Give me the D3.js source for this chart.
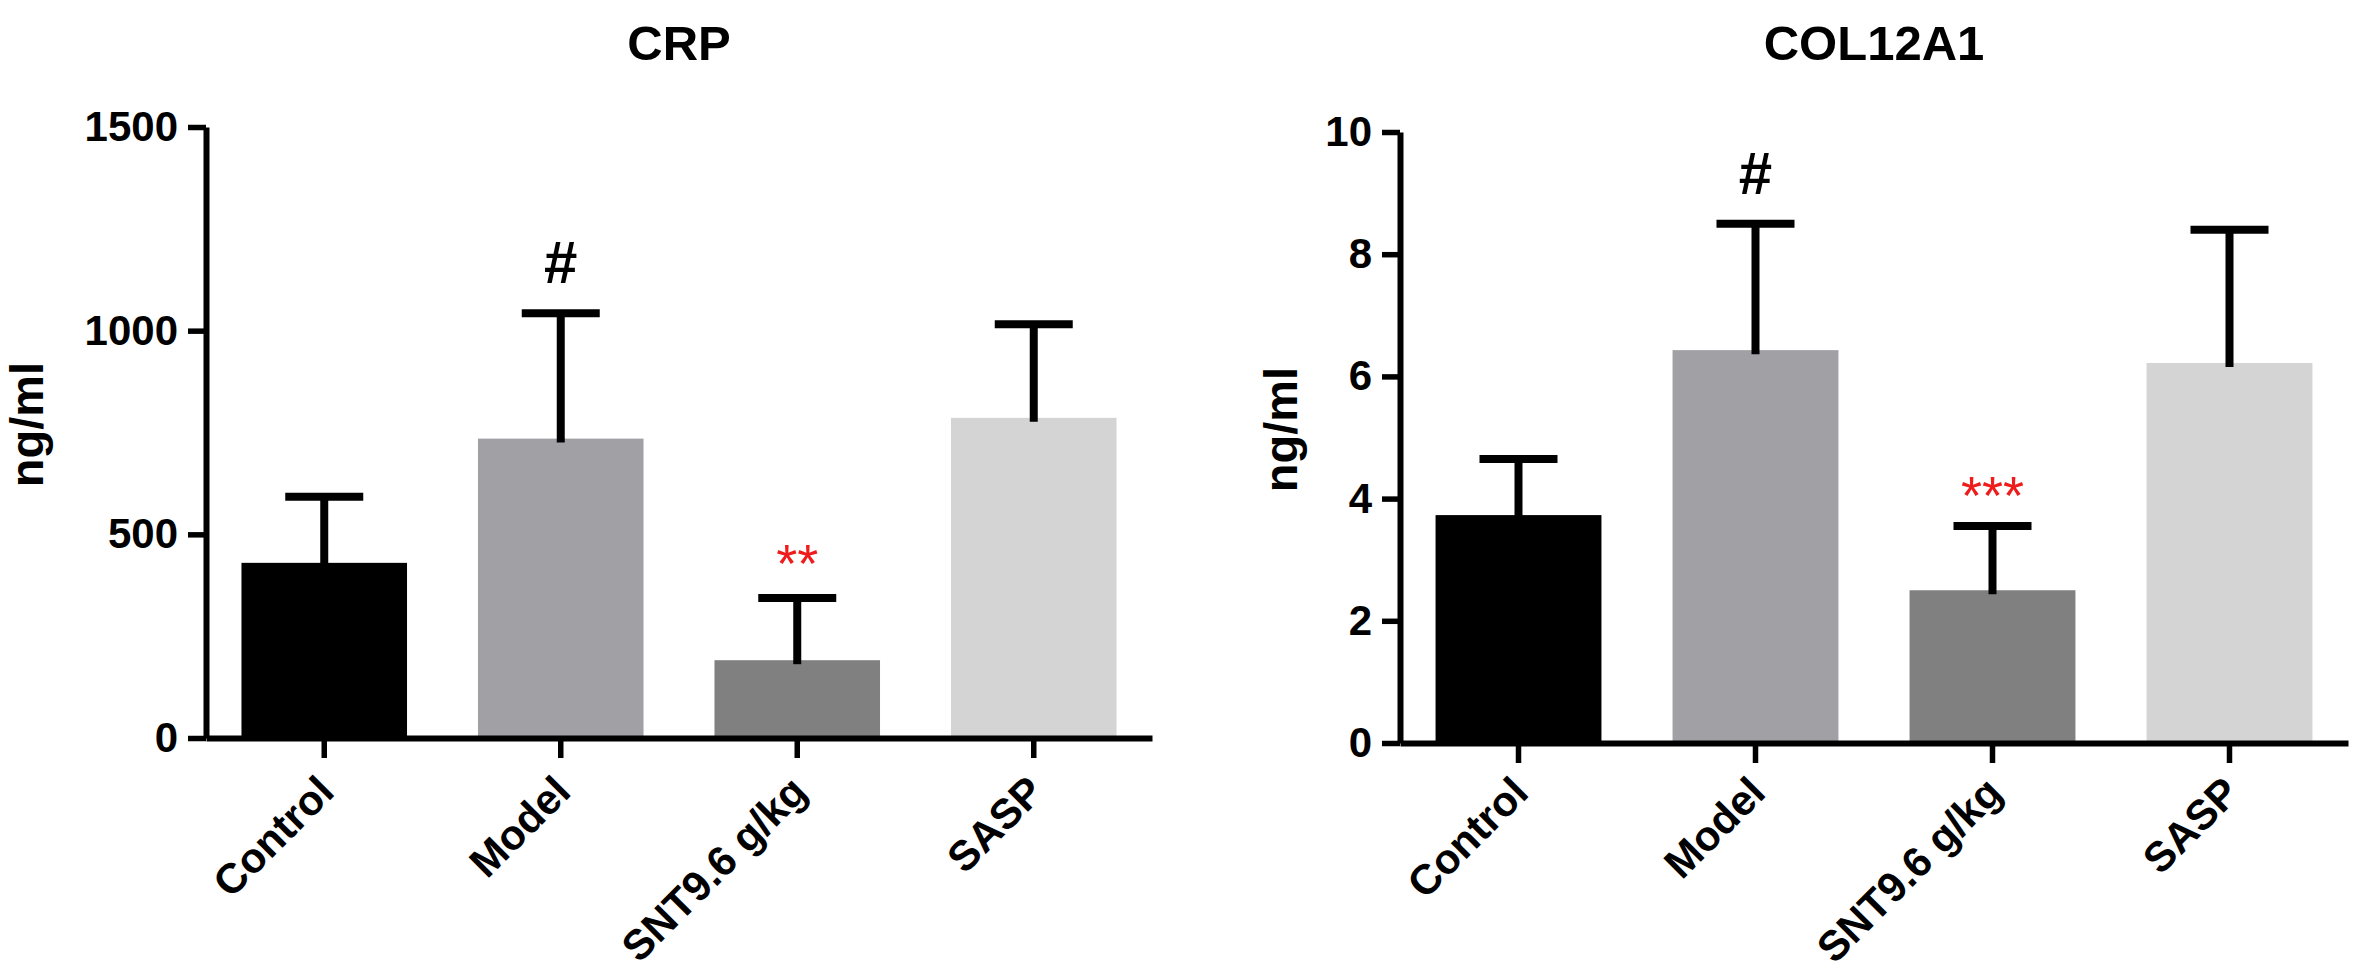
<!DOCTYPE html>
<html>
<head>
<meta charset="utf-8">
<script src="https://cdn.jsdelivr.net/npm/d3@7"></script>
<style>
  html, body { margin: 0; padding: 0; background: #fff; }
  svg { display: block; }
  text { font-family: "Liberation Sans", Arial, Helvetica, sans-serif; font-weight: bold; }
</style>
</head>
<body>
<div id="chart"></div>
<script>
// groups on the x axis
var categories = ["Control", "Model", "SNT9.6 g/kg", "SASP"];
var barColors = ["#000000", "#a1a1a5", "#808080", "#d4d4d4"];

// CRP panel (ng/ml), mean and upper error (SD)
var crpMean = [430, 735, 191, 786];
var crpErr = [162, 308, 153, 230];
var crpTicks = [0, 500, 1000, 1500];
var crpMarks = ["", "#", "**", ""];

// COL12A1 panel (ng/ml)
var colMean = [3.73, 6.43, 2.50, 6.22];
var colErr = [0.92, 2.07, 1.05, 2.18];
var colTicks = [0, 2, 4, 6, 8, 10];
var colMarks = ["", "#", "***", ""];

var W = 2362, H = 978;

var svg = d3.select("#chart").append("svg")
  .attr("width", W)
  .attr("height", H);

function panel(opt) {
  var x = d3.scaleBand()
    .domain(categories)
    .range([opt.x0, opt.x1])
    .paddingInner(0.3)
    .paddingOuter(0.15);

  var y = d3.scaleLinear()
    .domain([0, opt.max])
    .range([opt.y0, opt.y1]);

  var g = svg.append("g");

  // bars
  g.selectAll("rect.bar")
    .data(opt.mean)
    .enter().append("rect")
    .attr("class", "bar")
    .attr("x", function(d, i) { return x(categories[i]); })
    .attr("y", function(d) { return y(d); })
    .attr("width", x.bandwidth())
    .attr("height", function(d) { return y(0) - y(d); })
    .style("fill", function(d, i) { return barColors[i]; });

  // error bars, upper half only
  var err = g.selectAll("g.err")
    .data(opt.mean)
    .enter().append("g")
    .attr("class", "err")
    .attr("transform", function(d, i) {
      return "translate(" + (x(categories[i]) + x.bandwidth() / 2) + ",0)";
    });

  err.append("line")
    .attr("y1", function(d) { return y(d) + 4; })
    .attr("y2", function(d, i) { return y(d + opt.err[i]); })
    .style("stroke", "#000")
    .style("stroke-width", 8);

  err.append("line")
    .attr("x1", -39)
    .attr("x2", 39)
    .attr("y1", function(d, i) { return y(d + opt.err[i]); })
    .attr("y2", function(d, i) { return y(d + opt.err[i]); })
    .style("stroke", "#000")
    .style("stroke-width", 8);

  // significance marks
  err.append("text")
    .attr("y", function(d, i) {
      var m = opt.marks[i];
      return y(d + opt.err[i]) - (m === "#" ? 30 : opt.starGap);
    })
    .attr("text-anchor", "middle")
    .style("font-size", function(d, i) { return opt.marks[i] === "#" ? "60px" : "54px"; })
    .style("font-weight", function(d, i) { return opt.marks[i] === "#" ? "bold" : "normal"; })
    .style("fill", function(d, i) { return opt.marks[i] === "#" ? "#000" : "#ee1c1c"; })
    .text(function(d, i) { return opt.marks[i]; });

  // y axis
  var yAxis = g.append("g")
    .attr("transform", "translate(" + opt.x0 + ",0)")
    .call(d3.axisLeft(y).tickValues(opt.ticks).tickFormat(d3.format("d"))
      .tickSize(18).tickSizeOuter(0).tickPadding(10));

  // x axis
  var xAxis = g.append("g")
    .attr("transform", "translate(0," + opt.y0 + ")")
    .call(d3.axisBottom(x).tickSize(20).tickSizeOuter(0).tickPadding(0));

  [yAxis, xAxis].forEach(function(a) {
    a.select(".domain").style("stroke", "#000").style("stroke-width", 6);
    a.selectAll(".tick line").style("stroke", "#000").style("stroke-width", 5.5);
  });

  yAxis.selectAll(".tick text")
    .style("font-size", "42px")
    .style("fill", "#000");

  xAxis.selectAll(".tick text")
    .attr("text-anchor", "end")
    .attr("dy", null)
    .attr("y", null)
    .attr("transform", "translate(12," + opt.labelDrop + ") rotate(-45)")
    .style("font-size", "42px")
    .style("fill", "#000");

  // title
  g.append("text")
    .attr("x", (opt.x0 + opt.x1) / 2)
    .attr("y", 60)
    .attr("text-anchor", "middle")
    .style("font-size", "49px")
    .text(opt.title);

  // y label
  g.append("text")
    .attr("transform", "translate(" + opt.labelX + "," + ((opt.y0 + opt.y1) / 2 - 8) + ") rotate(-90)")
    .attr("dy", "0.35em")
    .attr("text-anchor", "middle")
    .style("font-size", "47px")
    .text("ng/ml");
}

panel({
  title: "CRP", mean: crpMean, err: crpErr, ticks: crpTicks, marks: crpMarks,
  max: 1500, x0: 206, x1: 1152, y0: 738, y1: 127, labelX: 27, starGap: 16, labelDrop: 56
});

panel({
  title: "COL12A1", mean: colMean, err: colErr, ticks: colTicks, marks: colMarks,
  max: 10, x0: 1400, x1: 2348, y0: 743, y1: 132, labelX: 1281, starGap: 12, labelDrop: 52
});
</script>
</body>
</html>
